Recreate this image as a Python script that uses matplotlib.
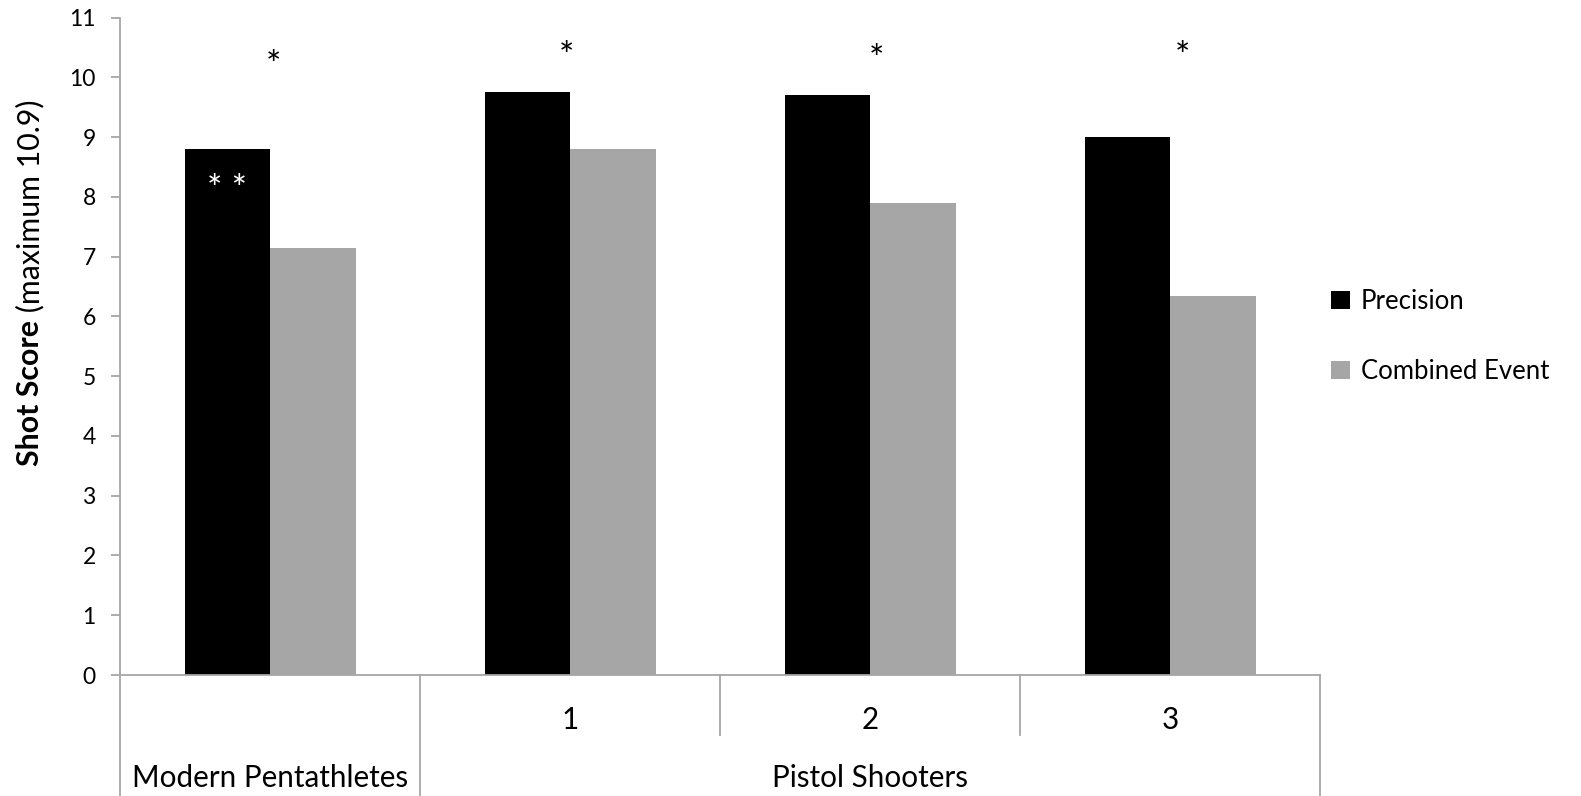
import matplotlib
matplotlib.use('Agg')
import matplotlib.pyplot as plt
import matplotlib.transforms as mtransforms
import numpy as np

plt.rcParams['font.family'] = ['Lato', 'DejaVu Sans']

# shot scores per group
groups = ['Modern Pentathletes', '1', '2', '3']
inner_labels = ['', '1', '2', '3']
outer_labels = ['Modern Pentathletes', 'Pistol Shooters']
precision = [8.80, 9.75, 9.70, 9.00]
combined = [7.15, 8.80, 7.90, 6.35]
series_names = ['Precision', 'Combined Event']
sig_marks = ['*', '*', '*', '*']
sig_y = [10.45, 10.6, 10.55, 10.6]
sig_dx = [0.01, -0.013, 0.02, 0.04]

axis_grey = '#a6a6a6'
bar_grey = '#a6a6a6'
fs_tick = 16.5
fs_cat = 21.3
fs_leg = 18.5
fs_star = 26

fig = plt.figure(figsize=(15.81, 7.96), dpi=100)
ax = fig.add_axes([120 / 1581, 1 - 675 / 796, 1200 / 1581, (675 - 17.7) / 796])

x = np.arange(len(groups))
w = 0.285
b1 = ax.bar(x - w / 2, precision, w, color='black', label=series_names[0])
b2 = ax.bar(x + w / 2, combined, w, color=bar_grey, label=series_names[1])

ax.set_xlim(-0.5, len(groups) - 0.5)
ax.set_ylim(0, 11)
ax.set_yticks(range(0, 12))
ax.tick_params(axis='y', direction='out', length=6.5, width=1.3, color=axis_grey,
               labelsize=fs_tick, pad=11)
ax.set_xticks([])
for side in ['top', 'right', 'bottom']:
    ax.spines[side].set_visible(False)
ax.spines['left'].set_color(axis_grey)
ax.spines['left'].set_linewidth(1.3)

# significance markers (asterisk glyph sits high, so anchor on the baseline)
for i, m in enumerate(sig_marks):
    ax.text(x[i] + sig_dx[i], sig_y[i] - 0.45, m, ha='center', va='baseline', fontsize=fs_star)
ax.text(x[0] - w / 2, 8.38 - 0.45, '* *', ha='center', va='baseline', fontsize=fs_star,
        color='white')

# two-level category axis drawn below the plot
tr = mtransforms.blended_transform_factory(ax.transData, fig.transFigure)
y_axis = 1 - 675 / 796
y_mid = 1 - 735 / 796
lk = dict(color=axis_grey, lw=1.3, transform=tr, clip_on=False)
ax.plot([-0.5, len(groups) - 0.5], [y_axis, y_axis], **lk)
for xb in [-0.5, 0.5, len(groups) - 0.5]:
    ax.plot([xb, xb], [y_axis, 0], **lk)
for xb in np.arange(1.5, len(groups) - 1, 1.0):
    ax.plot([xb, xb], [y_axis, y_mid], **lk)
for i, lab in enumerate(inner_labels):
    if lab:
        ax.text(x[i], 1 - 720 / 796, lab, ha='center', va='center', fontsize=fs_cat, transform=tr)
ax.text(x[0], 1 - 778 / 796, outer_labels[0], ha='center', va='center', fontsize=fs_cat,
        transform=tr)
ax.text((x[1] + x[-1]) / 2, 1 - 778 / 796, outer_labels[1], ha='center', va='center',
        fontsize=fs_cat, transform=tr)

# y label: bold part followed by regular part
t1 = fig.text(30 / 1581, 1 - 466 / 796, 'Shot Score', rotation=90, fontsize=21.8,
              fontweight='bold', ha='center', va='bottom')
fig.canvas.draw()
bb = t1.get_window_extent().transformed(fig.transFigure.inverted())
fig.text(30 / 1581, bb.y1, ' (maximum 10.9)', rotation=90, fontsize=21.8,
         ha='center', va='bottom')

fig.legend(handles=[b1, b2], labels=series_names, loc='center left',
           bbox_to_anchor=(1331 / 1581, 1 - 336.5 / 796), frameon=False, fontsize=fs_leg,
           handlelength=0.75, handleheight=0.75, handletextpad=0.4,
           labelspacing=1.75, borderpad=0, borderaxespad=0)

fig.savefig('out.png', dpi=100)
